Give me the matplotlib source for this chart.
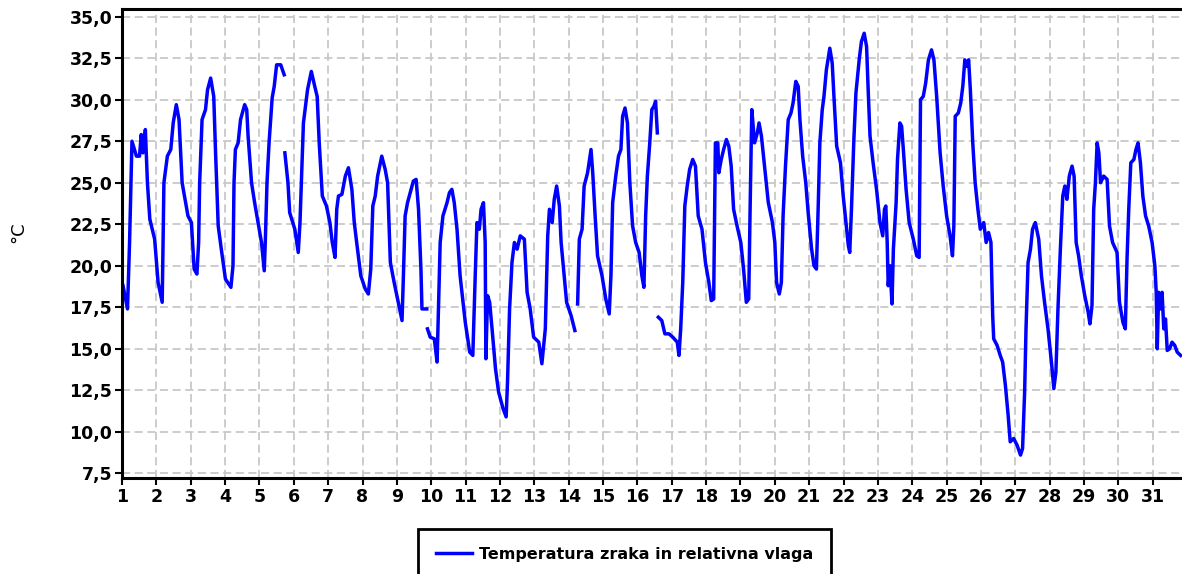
import numpy as np
import matplotlib
matplotlib.use("Agg")
import matplotlib.pyplot as plt

nan = np.nan

# Day of month (fractional) and air temperature (°C); NaN marks gaps in the record
day = [
    1.03, 1.16, 1.22, 1.29, 1.42, 1.51, 1.56, 1.61, 1.68, 1.74, 1.81, 1.95, 2.05, 2.17,
    2.22, 2.32, 2.42, 2.49, 2.58, 2.66, 2.75, 2.92, 3.02, 3.10, 3.18, 3.23, 3.26, 3.33,
    3.43, 3.49, 3.58, 3.67, 3.72, 3.80, 3.89, 4.01, 4.17, 4.23, 4.26, 4.30, 4.38, 4.45,
    4.57, 4.63, 4.67, 4.77, 4.86, 4.96, 5.06, 5.14, 5.17, 5.22, 5.28, 5.37, 5.43, 5.50,
    5.62, 5.72, 5.73,
    5.74, 5.83, 5.88, 6.03, 6.13, 6.18, 6.22, 6.28, 6.34, 6.40, 6.51, 6.61, 6.68, 6.74,
    6.83, 6.95, 7.05, 7.12, 7.20, 7.25, 7.30, 7.40, 7.50, 7.59, 7.69, 7.76, 7.83, 7.95,
    8.08, 8.17, 8.24, 8.30, 8.37, 8.44, 8.56, 8.66, 8.73, 8.81, 8.92, 9.05, 9.15, 9.19,
    9.24, 9.31, 9.39, 9.48, 9.56, 9.63, 9.70, 9.73, 9.87, 9.88,
    9.89, 9.97, 10.09, 10.17, 10.21, 10.26, 10.34, 10.46, 10.53, 10.60, 10.67, 10.75,
    10.84, 10.99, 11.12, 11.21, 11.28, 11.33, 11.40, 11.45, 11.52, 11.57, 11.59, 11.64,
    11.70, 11.77, 11.87, 11.96, 12.09, 12.18, 12.22, 12.28, 12.35, 12.42, 12.50, 12.59,
    12.71, 12.79, 12.88, 12.98, 13.13, 13.22, 13.32, 13.39, 13.44, 13.52, 13.58, 13.65,
    13.73, 13.78, 13.87, 13.94, 14.07, 14.18, 14.22,
    14.26, 14.31, 14.39, 14.45, 14.55, 14.65, 14.70, 14.77, 14.84, 14.97, 15.08, 15.18,
    15.23, 15.28, 15.37, 15.45, 15.52, 15.57, 15.64, 15.71, 15.78, 15.86, 15.95, 16.05,
    16.13, 16.19, 16.24, 16.29, 16.36, 16.42, 16.48, 16.53, 16.58, 16.60,
    16.61, 16.71, 16.80, 16.92, 17.03, 17.16, 17.21, 17.26, 17.32, 17.38, 17.45, 17.52,
    17.61, 17.69, 17.77, 17.88, 17.98, 18.08, 18.15, 18.22, 18.27, 18.34, 18.37, 18.44,
    18.51, 18.59, 18.66, 18.73, 18.80, 18.90, 19.01, 19.09, 19.17, 19.24, 19.28, 19.33,
    19.41, 19.49, 19.54, 19.61, 19.71, 19.81, 19.93, 20.00, 20.05, 20.13, 20.19, 20.24,
    20.31, 20.39, 20.47, 20.53, 20.61, 20.68, 20.73, 20.81, 20.90, 20.97, 21.07, 21.14,
    21.21, 21.26, 21.31, 21.38, 21.43, 21.50, 21.60, 21.67, 21.72, 21.80, 21.91, 21.99,
    22.07, 22.14, 22.18, 22.23, 22.30, 22.36, 22.46, 22.52, 22.60, 22.67, 22.72, 22.77,
    22.86, 22.96, 23.06, 23.14, 23.19, 23.23, 23.27, 23.30, 23.35, 23.41, 23.45, 23.53,
    23.57, 23.64, 23.69, 23.74, 23.82, 23.91, 24.03, 24.13, 24.20, 24.24, 24.32, 24.39,
    24.47, 24.56, 24.63, 24.71, 24.81, 24.90, 25.00, 25.10, 25.17, 25.21, 25.25, 25.34,
    25.41, 25.47, 25.53, 25.59, 25.64, 25.69, 25.76, 25.83, 25.91, 25.98, 26.08, 26.15,
    26.22, 26.29, 26.34, 26.37, 26.47, 26.56, 26.63, 26.71, 26.79, 26.85, 26.95, 27.05,
    27.15, 27.21, 27.27, 27.31, 27.37, 27.44, 27.50, 27.58, 27.68, 27.76, 27.85, 27.95,
    28.05, 28.12, 28.18, 28.24, 28.31, 28.38, 28.44, 28.50, 28.57, 28.65, 28.71, 28.77,
    28.84, 28.92, 29.02, 29.12, 29.17, 29.23, 29.28, 29.33, 29.38, 29.43, 29.48, 29.57,
    29.67, 29.74, 29.83, 29.96, 30.03, 30.13, 30.20, 30.25, 30.30, 30.36, 30.45, 30.51,
    30.57, 30.64, 30.71, 30.79, 30.88, 30.98, 31.06, 31.10, 31.13, 31.17, 31.22, 31.27,
    31.32, 31.37, 31.42, 31.49, 31.56, 31.64, 31.71, 31.81,
]

temp = [
    18.8, 17.4, 21.4, 27.5, 26.6, 26.6, 27.9, 26.8, 28.2, 25.0, 22.8, 21.6, 19.0, 17.8,
    25.0, 26.6, 27.0, 28.6, 29.7, 28.8, 25.0, 23.0, 22.6, 19.8, 19.5, 21.4, 25.0, 28.8,
    29.4, 30.6, 31.3, 30.2, 27.0, 22.4, 21.0, 19.2, 18.7, 20.0, 25.0, 27.0, 27.4, 28.8,
    29.7, 29.4, 27.8, 25.0, 23.8, 22.6, 21.4, 19.7, 21.4, 25.0, 27.4, 30.1, 30.8, 32.1,
    32.1, 31.5, nan,
    26.8, 25.0, 23.2, 22.2, 20.8, 22.6, 25.0, 28.6, 29.6, 30.6, 31.7, 30.8, 30.2, 27.4,
    24.2, 23.6, 22.6, 21.4, 20.5, 23.4, 24.2, 24.3, 25.4, 25.9, 24.6, 22.6, 21.4, 19.4,
    18.6, 18.3, 19.8, 23.6, 24.2, 25.4, 26.6, 25.8, 25.0, 20.2, 19.0, 17.7, 16.7, 19.4,
    23.0, 23.8, 24.4, 25.1, 25.2, 23.4, 19.8, 17.4, 17.4, nan,
    16.2, 15.7, 15.6, 14.2, 17.4, 21.4, 23.0, 23.8, 24.4, 24.6, 23.8, 22.2,
    19.4, 16.6, 14.8, 14.6, 19.4, 22.6, 22.2, 23.4, 23.8, 21.4, 14.4, 18.2,
    17.8, 16.2, 13.8, 12.4, 11.4, 10.9, 13.0, 17.4, 20.2, 21.4, 21.0, 21.8,
    21.6, 18.4, 17.4, 15.7, 15.4, 14.1, 16.2, 21.8, 23.4, 22.6, 24.0, 24.8,
    23.6, 21.4, 19.4, 17.8, 17.0, 16.1, nan,
    17.7, 21.6, 22.2, 24.8, 25.6, 27.0, 25.6, 23.0, 20.6, 19.4, 18.0, 17.1,
    19.4, 23.8, 25.4, 26.6, 27.0, 29.0, 29.5, 28.6, 25.0, 22.4, 21.4, 20.8,
    19.4, 18.7, 23.0, 25.4, 27.4, 29.4, 29.6, 29.9, 28.0, nan,
    16.9, 16.7, 15.9, 15.9, 15.7, 15.4, 14.6, 16.2, 19.0, 23.6, 24.8, 25.8,
    26.4, 26.0, 23.0, 22.2, 20.2, 19.0, 17.9, 18.0, 27.4, 27.4, 25.6, 26.4,
    27.0, 27.6, 27.2, 26.0, 23.4, 22.4, 21.4, 19.8, 17.8, 18.0, 23.4, 29.4,
    27.4, 28.0, 28.6, 27.8, 25.8, 23.8, 22.6, 21.4, 19.0, 18.3, 19.0, 23.0,
    26.0, 28.8, 29.2, 29.8, 31.1, 30.8, 28.8, 26.6, 25.0, 23.2, 21.0, 20.0,
    19.8, 23.4, 27.4, 29.4, 30.2, 31.8, 33.1, 32.2, 30.2, 27.2, 26.2, 24.2,
    22.6, 21.2, 20.8, 23.4, 27.6, 30.4, 32.5, 33.5, 34.0, 33.2, 30.4, 27.8,
    26.2, 24.6, 22.6, 21.8, 23.4, 23.6, 21.4, 18.8, 20.0, 17.7, 21.0, 23.8,
    26.4, 28.6, 28.4, 27.0, 24.6, 22.6, 21.6, 20.6, 20.5, 30.0, 30.2, 31.0,
    32.4, 33.0, 32.4, 30.2, 26.8, 24.8, 23.0, 21.8, 20.6, 22.4, 29.0, 29.2,
    29.8, 30.8, 32.4, 32.0, 32.4, 30.6, 27.4, 25.0, 23.4, 22.2, 22.6, 21.4,
    22.0, 21.4, 17.0, 15.6, 15.2, 14.6, 14.2, 12.8, 11.0, 9.4, 9.6, 9.2,
    8.6, 9.0, 12.4, 16.2, 20.2, 21.0, 22.2, 22.6, 21.6, 19.4, 17.8, 16.2,
    14.2, 12.6, 13.6, 17.4, 21.0, 24.2, 24.8, 24.0, 25.4, 26.0, 25.4, 21.4,
    20.6, 19.4, 18.2, 17.2, 16.5, 17.6, 23.4, 25.0, 27.4, 26.8, 25.0, 25.4,
    25.2, 22.4, 21.4, 20.8, 17.8, 16.6, 16.2, 20.4, 23.4, 26.2, 26.4, 27.0,
    27.4, 26.2, 24.2, 23.0, 22.4, 21.4, 20.0, 18.4, 15.0, 18.4, 17.4, 18.4,
    16.2, 16.8, 14.9, 15.0, 15.4, 15.2, 14.8, 14.6,
]

y_ticks = [7.5, 10.0, 12.5, 15.0, 17.5, 20.0, 22.5, 25.0, 27.5, 30.0, 32.5, 35.0]
x_ticks = list(range(1, 32))
series_label = "Temperatura zraka in relativna vlaga"
y_label = "°C"

W, H = 1182, 574
fig = plt.figure(figsize=(W / 100, H / 100), dpi=100)
left, right, top, bottom = 122, 1182, 9, 478
ax = fig.add_axes([left / W, 1 - bottom / H, (right - left) / W, (bottom - top) / H])

ax.plot(day, temp, color="#0000ff", lw=2.5, solid_joinstyle="round", label=series_label)

ax.set_xlim(1, 31.85)
ax.set_ylim(7.22, 35.46)
ax.set_xticks(x_ticks)
ax.set_yticks(y_ticks)
ax.set_yticklabels([f"{v:.1f}".replace(".", ",") for v in y_ticks])
ax.set_xticklabels([str(v) for v in x_ticks])

ax.grid(True, color="#c8c8c8", linestyle=(0, (4.5, 2.5)), linewidth=1.3)
ax.set_axisbelow(True)

for s in ["left", "bottom", "top"]:
    ax.spines[s].set_linewidth(2.2)
    ax.spines[s].set_color("black")
ax.spines["right"].set_visible(False)

ax.tick_params(axis="both", direction="out", length=5, width=1.5, colors="black",
               labelsize=12.5, pad=2)
for lab in ax.get_xticklabels() + ax.get_yticklabels():
    lab.set_fontweight("bold")

fig.text(18 / W, 1 - 232 / H, y_label, rotation=90, ha="center", va="center", fontsize=13)

leg = fig.legend(loc="upper left", bbox_to_anchor=(418 / W, 1 - 529 / H),
                 frameon=True, fancybox=False, framealpha=1.0, borderpad=1.1,
                 borderaxespad=0.0, handlelength=2.3, handletextpad=0.4,
                 prop={"weight": "bold", "size": 11.5})
leg.get_frame().set_edgecolor("black")
leg.get_frame().set_linewidth(2.0)

fig.savefig("out.png", dpi=100)
